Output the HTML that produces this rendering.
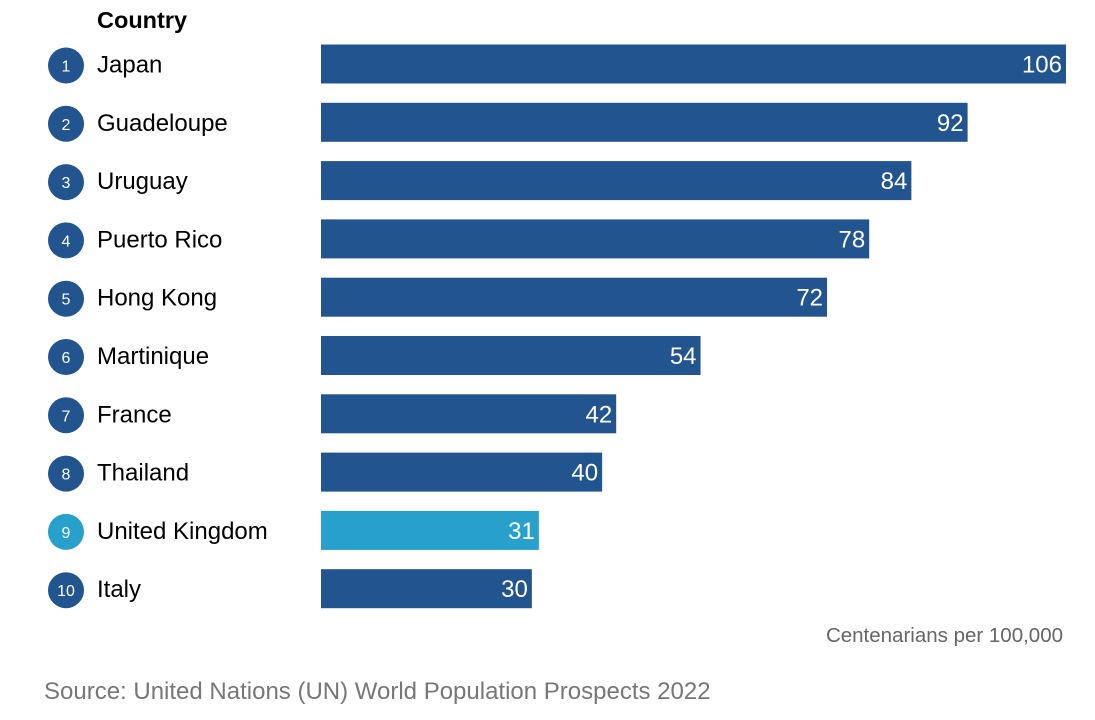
<!DOCTYPE html>
<html><head><meta charset="utf-8"><style>
body{margin:0;background:#fff;width:1095px;height:715px;overflow:hidden;font-family:"Liberation Sans",Arial,sans-serif;}
</style></head><body>
<svg id="chart" width="1095" height="715" xmlns="http://www.w3.org/2000/svg" font-family="Liberation Sans, Arial, sans-serif">
<text x="97" y="28" font-size="23.5" font-weight="bold" fill="#000">Country</text>
<g id="rows"></g>
<text x="1063" y="642" font-size="20.5" fill="#666" text-anchor="end">Centenarians per 100,000</text>
<text x="44" y="699" font-size="24" fill="#777">Source: United Nations (UN) World Population Prospects 2022</text>
</svg>
<script>
const countries=["Japan","Guadeloupe","Uruguay","Puerto Rico","Hong Kong","Martinique","France","Thailand","United Kingdom","Italy"];
const values=[106,92,84,78,72,54,42,40,31,30];
const highlight=["United Kingdom"];
const ns="http://www.w3.org/2000/svg";
const g=document.getElementById('rows');
const x0=321,scale=(1066-321)/106;
const xs=v=>x0+v*scale;
const yc=i=>64.5+i*58.3;
function mk(t,a){const e=document.createElementNS(ns,t);for(const k in a)e.setAttribute(k,a[k]);g.appendChild(e);return e;}
countries.forEach((c,i)=>{
 const col=highlight.includes(c)?"#27a0cc":"#22558f";
 const y=yc(i);
 const circ=mk('circle',{cx:66,cy:y+1,r:18,fill:col});
 
 
 const rn=mk('text',{x:66,y:y+7,'font-size':16,fill:'#fff','text-anchor':'middle'});rn.textContent=i+1;
 
 
 const lab=mk('text',{x:97,y:y+8,'font-size':24,fill:'#000'});lab.textContent=c;
 
 
 const r=mk('rect',{x:x0,y:y-20,width:xs(values[i])-x0,height:39,fill:col});
 
 
 const vt=mk('text',{x:xs(values[i])-4,y:y+8,'font-size':24,fill:'#fff','text-anchor':'end'});vt.textContent=values[i];
 
 
});
</script>
</body></html>
